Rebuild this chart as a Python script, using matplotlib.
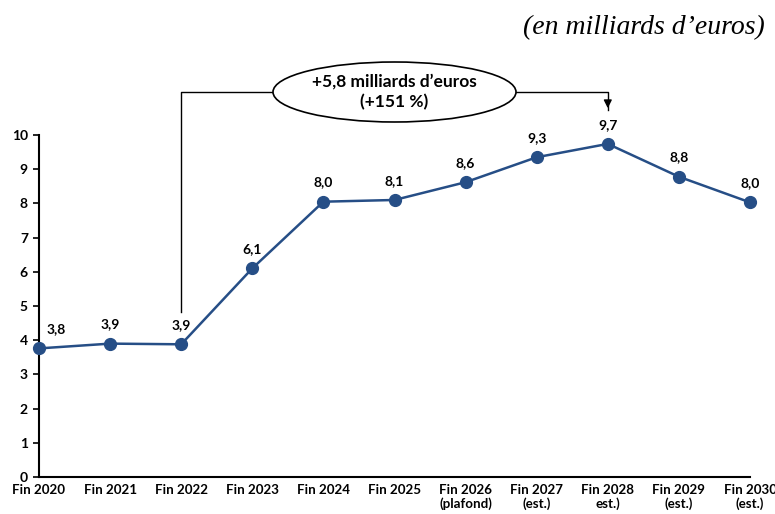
import matplotlib
matplotlib.use("Agg")
import matplotlib.pyplot as plt
from matplotlib.patches import Ellipse

categories = ["Fin 2020", "Fin 2021", "Fin 2022", "Fin 2023", "Fin 2024", "Fin 2025",
              "Fin 2026\n(plafond)", "Fin 2027\n(est.)", "Fin 2028\nest.)", "Fin 2029\n(est.)", "Fin 2030\n(est.)"]
values = [3.76, 3.90, 3.88, 6.10, 8.05, 8.10, 8.62, 9.35, 9.74, 8.78, 8.03]
value_labels = ["3,8", "3,9", "3,9", "6,1", "8,0", "8,1", "8,6", "9,3", "9,7", "8,8", "8,0"]
yticks = [0, 1, 2, 3, 4, 5, 6, 7, 8, 9, 10]
title = "(en milliards d\u2019euros)"
annot_lines = ["+5,8 milliards d\u2019euros", "(+151 %)"]

FONT = ["Lato", "DejaVu Sans"]
COLOR = "#264E86"

fig = plt.figure(figsize=(7.75, 5.14), dpi=100)
ax = fig.add_axes([39/775, 1-477/514, (750-39)/775, (477-135)/514])

x = list(range(len(categories)))
ax.plot(x, values, color=COLOR, lw=1.8, marker="o", ms=8.5, zorder=3, clip_on=False)

for i, (v, lab) in enumerate(zip(values, value_labels)):
    dx = 12 if i == 0 else 0
    ax.annotate(lab, (i, v), xytext=(dx, 9.5), textcoords="offset points",
                ha="center", va="bottom", fontsize=10, fontweight="bold", family=FONT)

ax.set_xlim(0, 10)
ax.set_ylim(0, 10)
ax.set_yticks(yticks)
ax.set_yticklabels([str(t) for t in yticks], fontsize=10, fontweight="bold", family=FONT)
ax.set_xticks(x)
ax.set_xticklabels(categories, fontsize=9.6, fontweight="bold", family=FONT, linespacing=1.15)
ax.tick_params(axis="x", length=0, pad=5)
ax.tick_params(axis="y", length=4, width=1.2, pad=4)
for s in ["top", "right"]:
    ax.spines[s].set_visible(False)
for s in ["left", "bottom"]:
    ax.spines[s].set_linewidth(1.5)

# Annotation bracket
y_br = (477-92)/34.2
ell_left, ell_right = (273-39)/71.1, (516-39)/71.1
ax.plot([2, 2, ell_left], [(477-312)/34.2, y_br, y_br], color="black", lw=1, clip_on=False)
ax.plot([ell_right, 8, 8], [y_br, y_br, (477-110)/34.2], color="black", lw=1, clip_on=False)
ax.annotate("", xy=(8, (477-111)/34.2), xytext=(8, (477-100)/34.2),
            arrowprops=dict(arrowstyle="-|>", color="black", lw=1, mutation_scale=12),
            annotation_clip=False)
ell = Ellipse(((ell_left+ell_right)/2, y_br), ell_right-ell_left, 60/34.2,
              facecolor="white", edgecolor="black", lw=1.2, clip_on=False, zorder=4)
ax.add_patch(ell)
ax.text((ell_left+ell_right)/2, y_br, "\n".join(annot_lines), ha="center", va="center",
        fontsize=12.5, fontweight="bold", family=FONT, zorder=5, linespacing=1.3)

fig.text(765/775, 1-28/514, title, ha="right", va="center", fontsize=20,
         style="italic", family=["Liberation Serif", "DejaVu Serif"])

fig.savefig("out.png", dpi=100)
